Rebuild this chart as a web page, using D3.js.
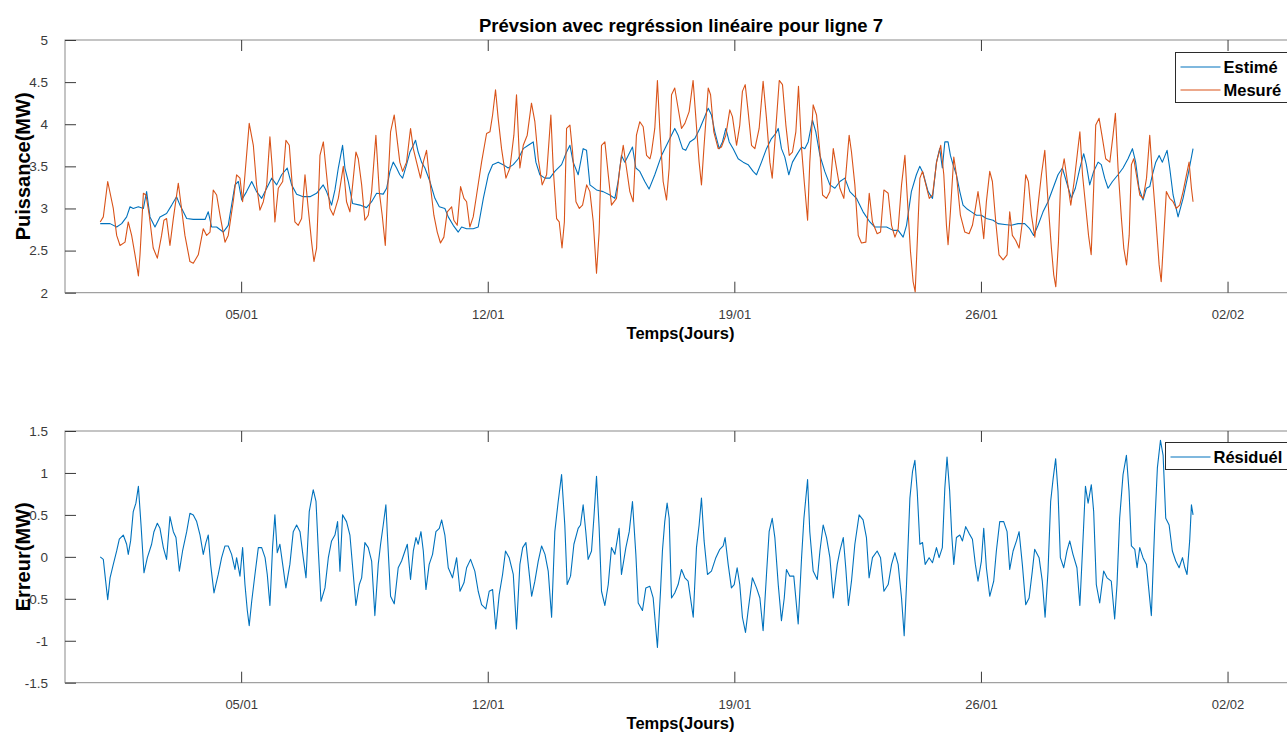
<!DOCTYPE html>
<html>
<head>
<meta charset="utf-8">
<script src="https://cdn.jsdelivr.net/npm/d3@7"></script>
<style>
  html, body { margin: 0; padding: 0; background: #fff; }
  svg { display: block; font-family: "Liberation Sans", Arial, Helvetica, sans-serif; }
</style>
</head>
<body>
<svg id="chart" width="1287" height="733"></svg>
<script>
// Time stamps are hours after 1 January 00:00; values in MW.
const measured = [
  [0,2.84],[2.1,2.9],[5.1,3.32],[8.9,3.0],[11.2,2.68],[13.5,2.56],[16.9,2.6],[19.1,2.84],[21.4,2.68],[23.7,2.45],
  [26,2.2],[27.1,2.45],[29.4,3.18],[31.2,3.16],[33.4,2.92],[36.1,2.53],[38.9,2.41],[41.8,2.68],[43.4,2.86],[45.2,2.88],
  [47.5,2.56],[49.8,2.88],[53.2,3.3],[54.8,3.08],[57.7,2.68],[61.1,2.37],[63.4,2.35],[66.8,2.45],[70.2,2.76],[72.5,2.68],
  [74.8,2.72],[77,3.22],[79.3,3.16],[81.6,2.92],[85,2.6],[87.2,2.68],[90.6,3.08],[92.9,3.4],[95.2,3.36],[97,3.08],
  [98.6,3.4],[101.5,4.01],[104.3,3.75],[106.5,3.28],[108.8,2.98],[111.1,3.08],[113.4,3.28],[115.6,3.85],[117.2,3.48],[119,2.84],
  [121.3,3.24],[124.3,3.32],[126.5,3.81],[128.8,3.75],[130.8,3.28],[132.6,2.84],[134.9,2.8],[137.2,2.88],[139.5,3.4],[141.7,3.0],
  [144,2.6],[145.6,2.37],[147.4,2.53],[149.7,3.63],[152,3.79],[154.2,3.4],[156.5,3.0],[158.8,2.92],[162.2,3.12],[165.6,3.5],
  [167.8,3.08],[170.1,2.96],[174.2,3.67],[175.8,3.59],[178.1,3.28],[180.3,2.86],[182.6,2.92],[184.9,3.2],[187.8,3.87],[190.1,3.2],
  [192.1,2.92],[194.2,2.56],[196.2,3.36],[197.8,3.91],[200.3,4.11],[201.9,3.87],[204.1,3.55],[206,3.44],[208.7,3.55],[211.4,3.95],
  [213.3,3.71],[215.5,3.55],[218.2,3.36],[220.1,3.55],[222.3,3.69],[224.6,3.32],[227.3,2.92],[229.6,2.72],[231.8,2.59],[234.1,2.66],
  [236.4,2.96],[239.4,3.02],[240.9,2.86],[243.2,2.8],[245.5,3.26],[247.8,3.12],[249.6,3.08],[251.8,2.78],[254.1,2.9],[256.4,3.16],
  [259.8,3.55],[263.2,3.89],[265.5,3.91],[267.3,4.11],[269.3,4.41],[271.1,4.07],[273.4,3.71],[276.4,3.36],[279.1,3.48],[281.8,3.87],
  [283.6,4.35],[285.9,3.48],[288.2,3.75],[290.9,3.87],[293.8,4.25],[296.1,4.03],[298.4,3.59],[301.1,3.28],[304.1,3.4],[307,4.11],
  [308.6,3.48],[310.9,2.88],[312.7,2.84],[314.6,2.53],[316.2,2.84],[317.7,3.95],[320,3.99],[321.8,3.67],[324.1,3.08],[326.4,3.0],
  [328.6,3.04],[331.4,3.28],[333.6,3.2],[335.9,2.84],[338.1,2.23],[339.9,2.72],[341.5,3.75],[343.8,3.79],[346.1,3.4],[348.3,3.04],
  [351.7,3.12],[354,3.48],[356.3,3.75],[358.5,3.48],[360.8,3.2],[363.1,3.08],[365.3,3.87],[367.6,4.03],[369.9,3.97],[372.2,3.63],
  [374.5,3.59],[375.6,3.67],[377.8,3.95],[379.6,4.52],[381.2,3.95],[383.5,3.32],[385.8,3.1],[387.6,3.48],[389.2,4.35],[391.4,4.43],
  [393.7,4.19],[396,3.95],[398.3,4.01],[401.2,4.15],[403.9,4.52],[405.8,4.07],[408,3.55],[409.6,3.28],[411.4,3.75],[414.2,4.43],
  [415.8,4.35],[418,3.91],[421,3.71],[423.2,3.73],[426.2,3.87],[428.9,4.17],[430.7,4.09],[433.5,3.75],[435.7,3.99],[437.5,4.39],
  [439.4,4.47],[441.4,4.15],[443.7,3.75],[446,3.71],[448.9,3.95],[451.6,4.51],[453.9,4.07],[456.2,3.55],[457.8,3.36],[459.6,3.79],
  [462.6,4.52],[464.8,4.47],[467.1,3.99],[469.4,3.63],[471.6,3.67],[473.9,3.91],[475.7,4.45],[477.8,3.71],[479.6,3.32],[481.9,2.86],
  [483.4,3.55],[485.7,4.23],[488,4.11],[490.3,3.67],[492.1,3.16],[494.8,3.12],[497.1,3.2],[499.4,3.71],[501.6,3.48],[503.9,3.24],
  [506.6,3.12],[510.2,3.87],[511.8,3.67],[514.1,3.28],[516.4,2.68],[518.6,2.59],[521.6,2.6],[523.9,3.18],[526.1,2.84],[529.3,2.7],
  [531.6,2.72],[533.9,3.22],[536.8,3.18],[539.1,2.8],[541.4,2.66],[543.6,2.76],[545.9,3.28],[548.2,3.63],[550,3.08],[552,2.49],
  [553.8,2.13],[555.2,2.01],[556.8,2.68],[558.4,3.36],[560.2,3.44],[562.5,3.28],[564.8,3.12],[567,3.16],[569.8,3.55],[572.6,3.75],
  [574.7,3.4],[576.5,2.8],[577.6,2.57],[579.2,2.96],[581.5,3.61],[583.3,3.4],[586,2.92],[589,2.72],[591.9,2.7],[594.2,2.8],
  [596.2,3.0],[598,3.2],[599.6,3.0],[601.9,2.64],[603.7,3.08],[606,3.44],[607.8,3.32],[610.1,2.84],[612.3,2.45],[615.1,2.39],
  [617.8,2.45],[619.6,2.96],[621.4,2.68],[623.7,2.62],[626,2.53],[628.2,2.84],[630.5,3.4],[632.3,3.32],[634.4,2.92],[636.7,2.66],
  [638.9,3.04],[641.2,3.4],[643.5,3.69],[645.7,3.08],[648,2.53],[649.6,2.21],[651,2.07],[652.8,2.6],[654.4,3.36],[656.7,3.59],
  [658.9,3.32],[661.2,3.04],[663.5,3.32],[665.8,3.67],[667.4,3.91],[669.2,3.4],[671.5,3.0],[673.3,2.68],[675.1,2.45],[676.8,3.24],
  [678.2,3.99],[680.5,4.07],[682.8,3.83],[685,3.59],[687.8,3.55],[690,3.87],[691.6,4.13],[693.4,3.48],[695.7,2.88],[697.3,2.53],
  [699.2,2.33],[701,2.68],[702.5,3.52],[704.1,3.59],[705.9,3.4],[708.2,3.16],[710.5,3.12],[712.8,3.36],[715,3.87],[716.8,3.4],
  [719.1,2.88],[721.4,2.33],[722.8,2.13],[724.6,2.68],[726.3,3.2],[728.6,3.12],[730.9,3.08],[733.1,3.0],[735.4,3.04],[737.7,3.2],
  [740,3.4],[741.8,3.55],[743.4,3.24],[744.5,3.08]
];

const estimated = [
  [0,2.82],[6.7,2.82],[11.2,2.78],[14.6,2.82],[18,2.9],[20.3,3.02],[22.5,3.0],[26,3.02],[29.4,3.0],[31.6,3.2],
  [33.9,2.9],[37.3,2.78],[40.7,2.9],[45.2,2.94],[48.7,3.04],[52,3.14],[54.3,3.04],[58.9,2.88],[63.4,2.87],[71.4,2.87],
  [73.6,2.96],[75.9,2.78],[79.3,2.78],[83.8,2.72],[87.2,2.8],[89.5,3.04],[91.8,3.28],[94.1,3.32],[96.4,3.1],[99.7,3.2],
  [103.2,3.32],[106.5,3.2],[110,3.12],[113.4,3.24],[116.8,3.36],[120.2,3.28],[123.6,3.4],[127.4,3.48],[130.4,3.28],[133.8,3.17],
  [138.3,3.14],[142.9,3.14],[147.4,3.18],[151.9,3.28],[154.2,3.2],[157.6,3.04],[159.9,3.22],[162.2,3.48],[165.1,3.75],[166.7,3.48],
  [169,3.32],[171.9,3.06],[176.9,3.04],[181.4,3.01],[184.9,3.08],[188.3,3.18],[192.8,3.17],[195.1,3.24],[197.4,3.44],[199.6,3.55],
  [201.9,3.48],[204.1,3.4],[206,3.36],[208.7,3.52],[211,3.67],[213.3,3.75],[214.8,3.81],[216.6,3.67],[218.9,3.55],[221.2,3.48],
  [224.6,3.32],[228,3.12],[231,3.02],[234.8,3.0],[237.1,2.9],[240.5,2.8],[243.9,2.72],[246.2,2.78],[249.6,2.76],[254.1,2.76],
  [257.5,2.78],[261,3.12],[264.4,3.4],[267.3,3.52],[271.1,3.55],[274.5,3.52],[277.9,3.48],[281.4,3.52],[284.8,3.59],[288.2,3.71],
  [291.6,3.75],[295,3.79],[296.8,3.55],[299.5,3.4],[302.9,3.36],[306.3,3.36],[309.7,3.44],[314.3,3.52],[317.7,3.67],[320,3.75],
  [322.2,3.55],[325.6,3.4],[329,3.71],[331.3,3.69],[333.6,3.28],[338.1,3.22],[342.6,3.2],[347.2,3.16],[350.6,3.12],[352.8,3.32],
  [355.1,3.63],[357.4,3.55],[359.7,3.63],[362.6,3.73],[364.9,3.48],[367.6,3.44],[371,3.32],[373.9,3.23],[377.8,3.4],[382.4,3.63],
  [386.9,3.79],[391.4,3.95],[393.7,3.87],[396.7,3.71],[398.9,3.69],[401.7,3.79],[405.1,3.83],[408.5,3.95],[411.4,4.07],[414.2,4.19],
  [416.4,4.11],[418.7,3.91],[421.7,3.71],[423.9,3.79],[426.2,3.95],[428.5,3.79],[431.2,3.71],[434.6,3.59],[438,3.55],[441.4,3.52],
  [444.8,3.44],[447.1,3.4],[450.5,3.55],[453.9,3.71],[457.3,3.83],[460.2,3.89],[461.9,3.95],[464.1,3.71],[466.4,3.61],[469.1,3.4],
  [471.6,3.55],[474.3,3.63],[477.8,3.73],[480,3.71],[482.3,3.79],[485.2,4.05],[487.5,3.91],[490.3,3.63],[493.6,3.44],[497.1,3.28],
  [500.5,3.24],[503.9,3.32],[507.3,3.36],[510.7,3.2],[515.2,3.12],[519.7,2.96],[524.3,2.84],[527.7,2.78],[531.1,2.78],[535.7,2.78],
  [540.2,2.74],[543.6,2.74],[547,2.66],[549.3,2.8],[552.6,3.2],[556,3.4],[558.3,3.5],[560.6,3.42],[564,3.2],[567,3.12],
  [569.7,3.55],[571.9,3.71],[573.7,3.48],[575.4,3.79],[577.6,3.79],[579.2,3.63],[581,3.52],[583.3,3.4],[585.6,3.2],[587.8,3.04],
  [590.1,3.0],[593.5,2.96],[596.9,2.92],[600.3,2.92],[603.7,2.88],[608.3,2.86],[611.6,2.82],[616.2,2.81],[620.7,2.8],[625.3,2.82],
  [629.8,2.82],[633.2,2.76],[635.9,2.68],[638.9,2.8],[642.3,2.96],[645.7,3.08],[649.1,3.24],[652.5,3.4],[655.5,3.48],[658.2,3.32],
  [661.6,3.12],[664.3,3.24],[667.4,3.48],[670,3.65],[671.8,3.52],[674.1,3.28],[676.8,3.44],[679.8,3.55],[682,3.52],[684.3,3.36],
  [686.6,3.24],[689.6,3.32],[693.4,3.4],[696.8,3.48],[700.2,3.59],[703.2,3.71],[705.4,3.55],[707.7,3.24],[710.4,3.1],[712.7,3.24],
  [715,3.26],[716.8,3.4],[719.1,3.55],[721.4,3.63],[723.6,3.55],[726.8,3.69],[728.6,3.48],[730.9,3.16],[734.3,2.9],[737.7,3.12],
  [741.1,3.4],[744.5,3.71]
];

const residual = [
  [0,0],[2.1,-0.03],[3.7,-0.29],[5.1,-0.51],[6.7,-0.25],[8.9,-0.09],[11.2,0.07],[13,0.21],[15.7,0.26],[18,0.15],
  [19.1,0.03],[20.7,0.19],[22.5,0.54],[24.3,0.64],[26,0.84],[27.8,0.38],[29.8,-0.19],[32.1,-0.01],[35,0.15],[36.6,0.3],
  [38.9,0.4],[40.7,0.34],[43,0.11],[45.2,-0.03],[47.5,0.48],[49.8,0.3],[51.6,0.23],[53.9,-0.17],[56.1,0.07],[58.9,0.3],
  [61.1,0.52],[63.4,0.5],[65.7,0.42],[68,0.26],[70.2,0.03],[72,0.17],[73.6,0.26],[75.2,-0.09],[77.5,-0.43],[80.4,-0.21],
  [82.7,-0.01],[85,0.13],[87.2,0.13],[89.5,0.03],[91.8,-0.15],[92.9,-0.01],[95.2,-0.23],[97,0.11],[98.6,-0.33],[100.2,-0.64],
  [101.5,-0.82],[103.2,-0.53],[105.4,-0.21],[107.7,0.11],[110,0.11],[112.3,-0.01],[113.8,-0.21],[115.6,-0.58],[117.4,0.11],[119,0.5],
  [120.6,0.05],[122.4,0.15],[124.3,-0.09],[126.5,-0.37],[129.2,-0.09],[131.5,0.3],[133.8,0.38],[136.1,0.3],[138.3,-0.01],[140.2,-0.25],
  [142.4,0.54],[145.1,0.8],[147,0.66],[148.6,0.07],[150.4,-0.53],[153.1,-0.37],[155.4,-0.01],[157.6,0.19],[159.9,0.26],[161.7,0.42],
  [163.3,-0.17],[165.1,0.5],[167.8,0.42],[170.1,0.26],[174.2,-0.58],[176.5,-0.33],[178.1,-0.25],[180.3,0.17],[182.6,0.11],[184.9,-0.05],
  [187.1,-0.7],[189.4,-0.09],[191,0.15],[192.8,0.38],[194.6,0.62],[196.2,0.07],[197.8,-0.47],[200.3,-0.56],[203,-0.13],[205.3,-0.05],
  [207.6,0.07],[209.2,0.15],[211.4,-0.27],[213.3,0.07],[215.1,0.23],[216.6,0.15],[218.5,0.3],[220.1,0.07],[221.9,-0.39],[224.1,-0.09],
  [226.4,0.03],[228.7,0.3],[231,0.34],[232.6,0.44],[234.8,0.26],[237.1,-0.13],[240,-0.25],[242.8,-0.01],[245.1,-0.41],[247.8,-0.31],
  [249.6,-0.13],[252.3,-0.03],[255.2,-0.17],[257.5,-0.41],[259.8,-0.57],[262.7,-0.62],[265,-0.41],[267.3,-0.39],[269.5,-0.86],[271.8,-0.45],
  [274.1,-0.21],[276.1,0.07],[278.6,-0.01],[281.4,-0.21],[283.6,-0.86],[285.9,-0.09],[287.8,0.11],[290,0.17],[291.6,-0.09],[293.9,-0.47],
  [296.1,-0.29],[298.4,-0.05],[300.7,0.13],[303,0.03],[305.2,-0.17],[307.5,-0.72],[309.7,0.3],[312,0.66],[314.3,0.98],[316.5,0.38],
  [318.1,-0.33],[320.4,-0.23],[322.7,0.15],[325.6,0.34],[327.2,0.38],[329,0.62],[330.8,0.3],[332.4,-0.03],[334.7,0.07],[336.3,0.46],
  [338.1,0.96],[339.9,0.34],[341.5,-0.41],[343.8,-0.58],[346.1,-0.33],[348.3,0.11],[350.6,0.03],[353.5,0.34],[355.1,-0.21],[358.1,0.11],
  [360.4,0.3],[362.6,0.66],[364.9,0.03],[366.5,-0.55],[369.4,-0.64],[371.7,-0.37],[374.4,-0.35],[376.7,-0.49],[379.6,-1.08],[381.7,-0.41],
  [383,0.07],[384.6,0.42],[386.2,0.64],[387.6,0.46],[389.2,-0.49],[391.4,-0.43],[393.7,-0.33],[396,-0.15],[398.3,-0.25],[400.5,-0.29],
  [404,-0.72],[406.2,0.11],[408,0.38],[409.6,0.7],[411.4,0.19],[413.7,-0.21],[416.4,-0.17],[419.4,-0.01],[422.1,0.09],[424.4,0.13],
  [425.7,0.23],[427.8,-0.09],[430,-0.37],[431.9,-0.33],[433.9,-0.13],[435.7,-0.33],[437.5,-0.72],[439.6,-0.9],[441.4,-0.64],[444.3,-0.25],
  [447.1,-0.37],[449.4,-0.49],[451.6,-0.88],[453.9,-0.21],[455.7,0.3],[457.8,0.46],[459.6,0.23],[461.9,-0.33],[464.1,-0.76],[466,-0.49],
  [467.5,-0.15],[469.8,-0.23],[472.5,-0.23],[475.5,-0.8],[477.8,-0.01],[479.4,0.46],[481.9,0.92],[483.4,0.3],[485.7,-0.17],[488.5,-0.27],
  [490.3,0.07],[492.5,0.38],[494.8,0.23],[497.1,-0.01],[499.4,-0.49],[502.1,-0.09],[503.9,0.07],[506.2,0.23],[507.9,-0.13],[509.7,-0.58],
  [511.8,-0.29],[514.1,0.15],[517,0.5],[519.7,0.44],[522,0.23],[523.8,-0.25],[526.1,-0.01],[529.3,0.07],[531.6,-0.01],[533.9,-0.41],
  [536.8,-0.33],[539.1,-0.09],[541.4,0.05],[543.6,-0.09],[545.9,-0.49],[547.7,-0.94],[549.3,-0.33],[551.6,0.7],[553.4,1.02],[555,1.15],
  [556.6,0.78],[558.4,0.15],[560.2,0.17],[562,-0.09],[564.7,-0.01],[567,-0.07],[569.7,0.11],[571.5,-0.01],[573.7,0.11],[575.4,0.82],
  [576.9,1.19],[578.7,0.78],[580.1,0.26],[581.5,-0.09],[583.3,0.23],[585.6,0.26],[587.4,0.19],[589.6,0.36],[591.9,0.28],[594.2,0.21],
  [596.2,-0.09],[598,-0.29],[600.3,-0.05],[601.9,0.34],[603.7,-0.13],[606,-0.47],[608.7,-0.29],[610.5,0.07],[612.8,0.42],[615.5,0.42],
  [617.8,0.3],[619.6,-0.15],[621.9,0.07],[624.2,0.19],[626,0.3],[628.2,-0.09],[630.5,-0.57],[632.8,-0.49],[635,-0.17],[636.6,0.09],
  [639.6,-0.01],[641.8,-0.29],[643.7,-0.72],[645.7,-0.17],[647.5,0.66],[649.1,0.92],[650.9,1.17],[652.5,0.78],[654.1,-0.01],[656.4,-0.13],
  [658.6,0.07],[660.5,0.19],[662.7,0.03],[665.4,-0.13],[667.4,-0.58],[669.6,0.23],[671.2,0.84],[673,0.64],[675.2,0.86],[676.8,0.54],
  [678.6,-0.33],[680.9,-0.55],[683.6,-0.17],[685.9,-0.25],[688.8,-0.29],[691.1,-0.74],[692.7,-0.33],[694.5,0.46],[696.8,0.98],[699.1,1.21],
  [700.9,0.78],[702.5,0.13],[704.8,0.09],[706.4,-0.13],[708.2,0.11],[710.4,-0.01],[712.7,-0.09],[716.1,-0.7],[718.4,0.38],[720.2,1.06],
  [722.3,1.39],[724.1,1.21],[725.9,0.46],[728.2,0.38],[730.4,0.07],[732.7,-0.05],[735,-0.13],[737.3,-0.01],[738.9,-0.13],[740.4,-0.21],
  [742.2,0.19],[743.4,0.62],[744.5,0.5]
];

const xTickDates = ["2019-01-05", "2019-01-12", "2019-01-19", "2019-01-26", "2019-02-02"];
const yTicksTop = [2, 2.5, 3, 3.5, 4, 4.5, 5];
const yTicksBottom = [-1.5, -1, -0.5, 0, 0.5, 1, 1.5];

const titleText = "Prévsion avec regréssion linéaire pour ligne 7";
const xLabelText = "Temps(Jours)";
const yLabelTop = "Puissance(MW)";
const yLabelBottom = "Erreur(MW)";

const COLORS = { estimated: "#0072BD", measured: "#D95319" };

const svg = d3.select("#chart");
const start = new Date(2019, 0, 1);
const toDate = h => new Date(start.getTime() + h * 3600 * 1000);
const parseDay = d3.timeParse("%Y-%m-%d");
const fmt = d3.timeFormat("%d/%m");
const numFmt = d => String(d); // plain hyphen for negatives

const left = 65, right = 1298;
const x = d3.scaleTime()
  .domain([new Date(2018, 11, 31), new Date(2019, 1, 4)])
  .range([left, right]);

function drawPanel(top, bottom, yDomain, yTicks, yLabel, series, legendItems, legendBox) {
  const y = d3.scaleLinear().domain(yDomain).range([bottom, top]);
  const g = svg.append("g");
  const clipId = "clip" + Math.round(top);
  svg.append("clipPath").attr("id", clipId)
    .append("rect").attr("x", left).attr("y", top).attr("width", right - left).attr("height", bottom - top);

  // frame
  g.append("rect")
    .attr("x", left).attr("y", top)
    .attr("width", right - left).attr("height", bottom - top)
    .attr("fill", "none").attr("stroke", "#8a8a8a").attr("stroke-width", 1);

  // x ticks (inward, bottom and top), with labels
  const xt = xTickDates.map(parseDay);
  const xAxis = d3.axisBottom(x).tickValues(xt).tickFormat(fmt).tickSizeInner(-11).tickSizeOuter(0).tickPadding(17);
  const gx = g.append("g").attr("transform", `translate(0,${bottom})`).call(xAxis);
  gx.select(".domain").remove();
  gx.selectAll(".tick line").attr("stroke", "#3a3a3a");
  gx.selectAll(".tick text").attr("fill", "#3a3a3a").style("font-size", "13px");
  const gxTop = g.append("g").attr("transform", `translate(0,${top})`)
    .call(d3.axisTop(x).tickValues(xt).tickFormat("").tickSizeInner(-11).tickSizeOuter(0));
  gxTop.select(".domain").remove();
  gxTop.selectAll(".tick line").attr("stroke", "#3a3a3a");

  // y ticks (inward), with labels
  const yAxis = d3.axisLeft(y).tickValues(yTicks).tickFormat(numFmt).tickSizeInner(-11).tickSizeOuter(0).tickPadding(17);
  const gy = g.append("g").attr("transform", `translate(${left},0)`).call(yAxis);
  gy.select(".domain").remove();
  gy.selectAll(".tick line").attr("stroke", "#3a3a3a");
  gy.selectAll(".tick text").attr("fill", "#3a3a3a").style("font-size", "13.5px");

  // series
  const line = d3.line().x(d => x(toDate(d[0]))).y(d => y(d[1]));
  const lines = svg.append("g").attr("clip-path", `url(#${clipId})`);
  series.forEach(s => {
    lines.append("path").datum(s.data)
      .attr("d", line).attr("fill", "none")
      .attr("stroke", s.color).attr("stroke-width", 1.1).attr("stroke-linejoin", "round");
  });

  // axis labels
  svg.append("text")
    .attr("transform", `translate(30,${(top + bottom) / 2}) rotate(-90)`)
    .attr("text-anchor", "middle").attr("font-weight", "bold")
    .style("font-size", "20px").attr("fill", "#000").text(yLabel);
  svg.append("text")
    .attr("x", (left + right) / 2 - 1).attr("y", bottom + 46)
    .attr("text-anchor", "middle").attr("font-weight", "bold")
    .style("font-size", "16.5px").attr("fill", "#000").text(xLabelText);

  // legend
  const lg = svg.append("g");
  lg.append("rect")
    .attr("x", legendBox.x).attr("y", legendBox.y)
    .attr("width", legendBox.w).attr("height", legendBox.h)
    .attr("fill", "#fff").attr("stroke", "#2b2b2b").attr("stroke-width", 1);
  legendItems.forEach((it, i) => {
    const cy = legendBox.y + 14.5 + i * 23;
    lg.append("line")
      .attr("x1", legendBox.x + 5).attr("x2", legendBox.x + 45)
      .attr("y1", cy).attr("y2", cy)
      .attr("stroke", it.color).attr("stroke-width", 1.1);
    lg.append("text")
      .attr("x", legendBox.x + 48).attr("y", cy + 6)
      .attr("font-weight", "bold").style("font-size", "16.5px")
      .attr("fill", "#000").text(it.label);
  });
}

// title
svg.append("text")
  .attr("x", 681).attr("y", 32)
  .attr("text-anchor", "middle").attr("font-weight", "bold")
  .style("font-size", "18.5px").attr("fill", "#000").text(titleText);

drawPanel(40, 292.7, [2, 5], yTicksTop, yLabelTop,
  [
    { data: estimated, color: COLORS.estimated },
    { data: measured, color: COLORS.measured }
  ],
  [
    { label: "Estimé", color: COLORS.estimated },
    { label: "Mesuré", color: COLORS.measured }
  ],
  { x: 1175.5, y: 52.5, w: 120, h: 50 });

drawPanel(431, 682.7, [-1.5, 1.5], yTicksBottom, yLabelBottom,
  [ { data: residual, color: COLORS.estimated } ],
  [ { label: "Résiduél", color: COLORS.estimated } ],
  { x: 1165.5, y: 442.5, w: 130, h: 27 });
</script>
</body>
</html>
